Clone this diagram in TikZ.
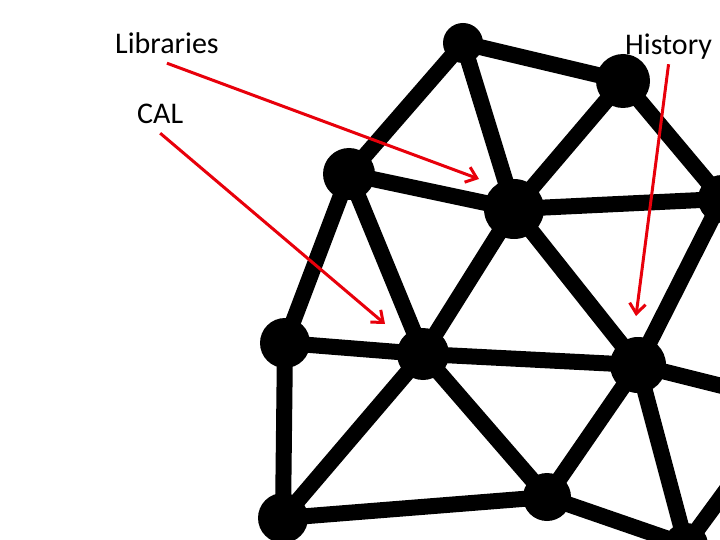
\documentclass[tikz,border=0pt]{standalone}
\usepackage{fontspec}
\setmainfont{Carlito}
\usepackage{xcolor}
\usepackage{tikz}
\usetikzlibrary{arrows.meta}
\definecolor{ptrred}{HTML}{E8000B}

\begin{document}
\begin{tikzpicture}[x=1pt, y=-1pt,
  vertex/.style={circle, fill=black, inner sep=0pt, minimum size=#1},
  link/.style={line width=16pt},
  tag/.style={font=\fontsize{30}{36}\selectfont, anchor=base west, inner xsep=0pt, inner ysep=9pt, text depth=0pt},
  pointer/.style={-{Straight Barb[length=10pt, width=16pt]}, line width=3pt, ptrred}
]
\useasboundingbox (0,0) rectangle (720,540);
\clip (0,0) rectangle (720,540);

% mesh vertices
\node[vertex=40pt] (va) at (463,43) {};
\node[vertex=54pt] (vb) at (623,81) {};
\node[vertex=52pt] (vc) at (349,174) {};
\node[vertex=60pt] (vd) at (514,209) {};
\node[vertex=48pt] (ve) at (722,199) {};
\node[vertex=50pt] (vf) at (285,343) {};
\node[vertex=52pt] (vg) at (423,354) {};
\node[vertex=56pt] (vh) at (638,365) {};
\node[vertex=48pt] (vi) at (547,497) {};
\node[vertex=50pt] (vj) at (283,518) {};
\node[vertex=44pt] (vk) at (686,545) {};
\coordinate (vx) at (790,403);

% mesh links
\foreach \a/\b in {va/vb, va/vc, va/vd, vb/vd, vb/ve, vc/vd, vc/vf, vc/vg,
                   vd/ve, vd/vg, vd/vh, ve/vh, vf/vg, vf/vj, vg/vh, vg/vj,
                   vg/vi, vh/vi, vh/vk, vh/vx, vj/vi, vi/vk, vk/vx}
  \draw[link] (\a.center) -- (\b.center);

% labels
\node[tag] (lib) at (115,54) {Libraries};
\node[tag] (cal) at (137,124) {CAL};
\node[tag] (hist) at (625,55) {History};

\coordinate (libtip) at (479,179);
\coordinate (caltip) at (385,324);
\coordinate (histtip) at (636,316);

\draw[pointer] (lib.south) -- (libtip);
\draw[pointer] (cal.south) -- (caltip);
\draw[pointer] (hist.south) -- (histtip);

\end{tikzpicture}
\end{document}
